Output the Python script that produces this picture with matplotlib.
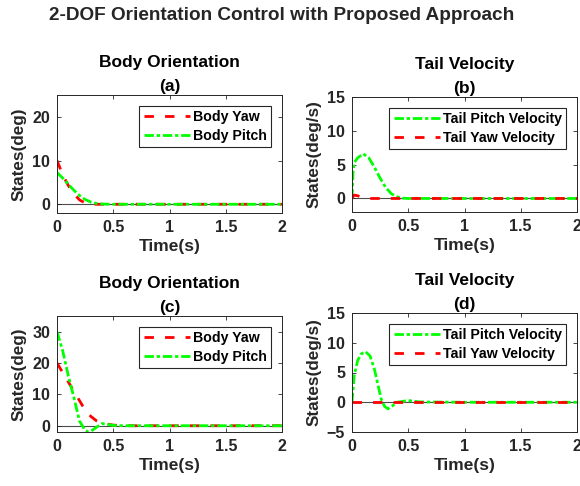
import numpy as np
import matplotlib
matplotlib.use("Agg")
import matplotlib.pyplot as plt

plt.rcParams["font.family"] = ["Liberation Sans", "DejaVu Sans"]
plt.rcParams["font.weight"] = "bold"
plt.rcParams["axes.titleweight"] = "bold"
plt.rcParams["axes.labelweight"] = "bold"

# (a) body orientation, small initial error
t_a = [0, 0.05, 0.1, 0.15, 0.2, 0.25, 0.3, 0.35, 0.4, 0.5, 1.0, 1.5, 2.0]
yaw_a = [10, 6.8, 4.3, 2.4, 1.0, 0.3, 0.05, 0, 0, 0, 0, 0, 0]
pitch_a = [7.3, 6.0, 4.6, 3.2, 2.0, 1.1, 0.5, 0.2, 0.05, 0, 0, 0, 0]

# (b) tail velocity, small initial error
t_b = [0, 0.01, 0.02, 0.05, 0.1, 0.15, 0.2, 0.25, 0.3, 0.35, 0.4, 0.45, 0.5, 1.0, 1.5, 2.0]
pitch_vel_b = [0, 4.0, 5.3, 6.0, 6.6, 6.0, 4.6, 3.0, 1.6, 0.7, 0.25, 0.05, 0, 0, 0, 0]
yaw_vel_b = [0, 0.3, 0.5, 0.4, 0.1, 0, 0, 0, 0, 0, 0, 0, 0, 0, 0, 0]

# (c) body orientation, large initial error
t_c = [0, 0.05, 0.1, 0.15, 0.2, 0.25, 0.28, 0.3, 0.35, 0.4, 0.45, 0.5, 0.6, 1.0, 1.5, 2.0]
yaw_c = [20, 17, 14, 11, 8, 5, 3.8, 3.0, 1.6, 0.9, 0.5, 0.2, 0, 0, 0, 0]
pitch_c = [30, 24, 16, 9, 1.5, -1.5, -2.0, -1.8, -0.5, 0.7, 0.4, 0.1, 0, 0, 0, 0]

# (d) tail velocity, large initial error
t_d = [0, 0.02, 0.05, 0.08, 0.12, 0.16, 0.2, 0.23, 0.26, 0.29, 0.32, 0.36, 0.4, 0.5, 0.6, 1.0, 1.5, 2.0]
pitch_vel_d = [0, 4.5, 7.0, 8.1, 8.5, 7.8, 5.5, 3.0, 0.5, -0.7, -1.1, -0.6, 0, 0.3, 0.05, 0, 0, 0]
yaw_vel_d = [0] * len(t_d)

x_ticks = [0, 0.5, 1, 1.5, 2]
x_ticklabels = ["0", "0.5", "1", "1.5", "2"]

W, H = 580, 486
fig = plt.figure(figsize=(W / 100, H / 100), dpi=100)


def make_ax(l, r, top, bot):
    return fig.add_axes([l / W, 1 - bot / H, (r - l) / W, (bot - top) / H])


ax_a = make_ax(57, 282, 95, 213)
ax_b = make_ax(352, 577, 97, 212)
ax_c = make_ax(57, 282, 316, 432)
ax_d = make_ax(352, 577, 313, 432)

dash = (0, (3.4, 4.0))
dashdot = (0, (3.4, 1.0, 1.2, 1.0))
red = (1, 0, 0)
green = (0, 1, 0)
lw = 2.0
axcol = (0.15, 0.15, 0.15)


def style(ax, title, ylabel, yticks, ylim, show_xlabel):
    ax.axhline(0, color=(0.3, 0.3, 0.3), lw=0.8, zorder=1)
    ax.set_xlim(0, 2)
    ax.set_ylim(*ylim)
    ax.set_xticks(x_ticks)
    ax.set_xticklabels(x_ticklabels)
    ax.set_yticks(yticks)
    ax.tick_params(direction="in", top=True, right=True, length=3, width=0.6,
                   color=axcol, labelcolor=axcol, labelsize=11.5, pad=5)
    for s in ax.spines.values():
        s.set_color(axcol)
        s.set_linewidth(0.7)
    ax.set_title(title, fontsize=12.5, pad=3, linespacing=1.7)
    ax.set_ylabel(ylabel, fontsize=12.3, labelpad=4, color=axcol)
    if show_xlabel:
        ax.set_xlabel("Time(s)", fontsize=12.5, labelpad=3, color=axcol)
    leg = ax.legend(loc="upper right", fontsize=10.2, handlelength=3.3,
                    handletextpad=0.2, borderpad=0.3, labelspacing=0.35,
                    borderaxespad=0.75, fancybox=False, framealpha=1)
    leg.get_frame().set_edgecolor(axcol)
    leg.get_frame().set_linewidth(0.8)


ax_a.plot(t_a, yaw_a, color=red, ls=dash, lw=lw, label="Body Yaw")
ax_a.plot(t_a, pitch_a, color=green, ls=dashdot, lw=lw, label="Body Pitch")
style(ax_a, "Body Orientation\n(a)", "States(deg)", [0, 10, 20], (-2, 25), True)

ax_b.plot(t_b, pitch_vel_b, color=green, ls=dashdot, lw=lw, label="Tail Pitch Velocity")
ax_b.plot(t_b, yaw_vel_b, color=red, ls=dash, lw=lw, label="Tail Yaw Velocity")
style(ax_b, "Tail Velocity\n(b)", "States(deg/s)", [0, 5, 10, 15], (-2, 15), True)

ax_c.plot(t_c, yaw_c, color=red, ls=dash, lw=lw, label="Body Yaw")
ax_c.plot(t_c, pitch_c, color=green, ls=dashdot, lw=lw, label="Body Pitch")
style(ax_c, "Body Orientation\n(c)", "States(deg)", [0, 10, 20, 30], (-2, 35), True)

ax_d.plot(t_d, pitch_vel_d, color=green, ls=dashdot, lw=lw, label="Tail Pitch Velocity")
ax_d.plot(t_d, yaw_vel_d, color=red, ls=dash, lw=lw, label="Tail Yaw Velocity")
style(ax_d, "Tail Velocity\n(d)", "States(deg/s)", [-5, 0, 5, 10, 15], (-5, 15), True)

fig.text(0.486, 0.969, "2-DOF Orientation Control with Proposed Approach",
         ha="center", va="center", fontsize=13.7, fontweight="bold", color=axcol)

fig.savefig("out.png", dpi=100)
